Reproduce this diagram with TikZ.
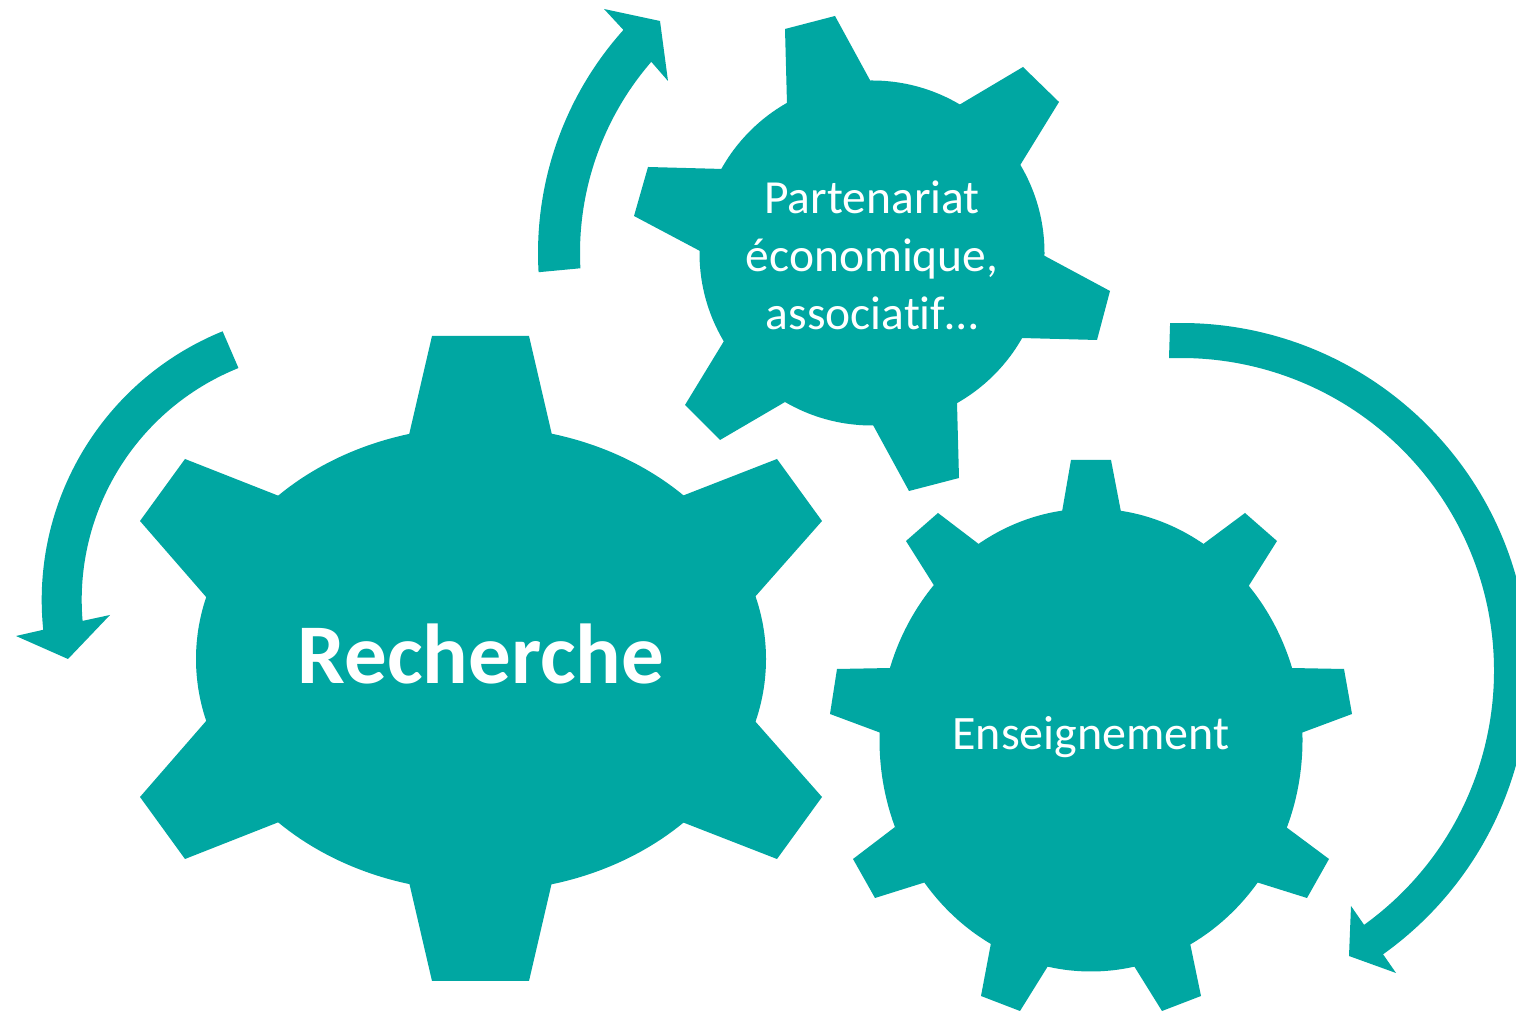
\documentclass[tikz,border=0pt]{standalone}
\usepackage{fontspec}
\setmainfont{Carlito}[Ligatures={NoCommon,NoRare}]
\usetikzlibrary{calc}
\definecolor{gearteal}{RGB}{0,167,162}
\begin{document}
\begin{tikzpicture}[x=1pt,y=1pt,
  gearfill/.style={fill=gearteal},
  geartext/.style={text=white, inner sep=0pt}]
\clip (0,0) rectangle (1516,1011);
\fill[white] (0,0) rectangle (1516,1011);
% centres of the arrow arcs
\coordinate (CA) at (872,758);
\coordinate (CB) at (331.7,411);
\coordinate (CC) at (1181,340);
% ---------- gear 1 : Recherche
\fill[gearfill] (481,352) ellipse [x radius=285pt, y radius=232.5pt];
\fill[gearfill] (409,576) -- (432,675) -- (529,675) -- (552,576) -- cycle;
\fill[gearfill] (682,515) -- (777,552) -- (822,490) -- (754,413) -- cycle;
\fill[gearfill] (754,291) -- (822,214) -- (777,152) -- (682,189) -- cycle;
\fill[gearfill] (552,129) -- (529,30) -- (432,30) -- (409,129) -- cycle;
\fill[gearfill] (279,189) -- (185,152) -- (140,214) -- (207,291) -- cycle;
\fill[gearfill] (207,413) -- (140,490) -- (185,552) -- (279,515) -- cycle;
% ---------- gear 2 : Partenariat
\fill[gearfill] (872,758) circle [radius=172.5pt];
\fill[gearfill] (787,907) -- (785,982) -- (835,995) -- (871,929) -- cycle;
\fill[gearfill] (959,906) -- (1023,944) -- (1059,909) -- (1019,844) -- cycle;
\fill[gearfill] (1043,756) -- (1110,720) -- (1097,671) -- (1021,673) -- cycle;
\fill[gearfill] (957,608) -- (959,533) -- (909,520) -- (873,586) -- cycle;
\fill[gearfill] (785,609) -- (720,571) -- (685,606) -- (724,670) -- cycle;
\fill[gearfill] (700,760) -- (634,795) -- (648,844) -- (723,842) -- cycle;
% ---------- gear 3 : Enseignement
\fill[gearfill] (1091,271) ellipse [x radius=211.5pt, y radius=231.5pt];
\fill[gearfill] (1062,499) -- (1071,551) -- (1111,551) -- (1121,499) -- cycle;
\fill[gearfill] (1202,466) -- (1245,498) -- (1277,470) -- (1248,424) -- cycle;
\fill[gearfill] (1291,343) -- (1344,342) -- (1352,297) -- (1301,278) -- cycle;
\fill[gearfill] (1286,184) -- (1329,152) -- (1307,113) -- (1256,129) -- cycle;
\fill[gearfill] (1190,68) -- (1201,15) -- (1162,0) -- (1134,45) -- cycle;
\fill[gearfill] (1048,45) -- (1020,0) -- (981,15) -- (991,68) -- cycle;
\fill[gearfill] (926,129) -- (875,113) -- (853,152) -- (895,184) -- cycle;
\fill[gearfill] (881,278) -- (830,297) -- (837,342) -- (891,343) -- cycle;
\fill[gearfill] (935,424) -- (906,470) -- (938,498) -- (980,466) -- cycle;
% ---------- circular arrows
\fill[gearfill] ($(CA)+(183.3:334pt)$) arc[start angle=183.3, end angle=138.1, radius=334pt]
  -- (604,1002) -- (660,990) -- (668,930)
  -- ($(CA)+(139.1:292pt)$) arc[start angle=139.1, end angle=183, radius=292pt] -- cycle;
\fill[gearfill] ($(CB)+(112.1:290pt)$) arc[start angle=112.1, end angle=185.9, radius=290pt]
  -- (16,375) -- (68,352) -- (110,396)
  -- ($(CB)+(184.8:250pt)$) arc[start angle=184.8, end angle=111.9, radius=250pt] -- cycle;
\fill[gearfill] ($(CC)+(91.8:348pt)$) arc[start angle=91.8, end angle=-54.5, radius=348pt]
  -- (1396,38) -- (1349,55) -- (1351,105)
  -- ($(CC)+(-54.2:313pt)$) arc[start angle=-54.2, end angle=92.2, radius=313pt] -- cycle;
% ---------- texts
\node[geartext, font=\bfseries\fontsize{85}{100}\selectfont, anchor=base] (recherche) at (481,327) {Recherche};
\node[geartext, font=\fontsize{47.5}{58}\selectfont, align=center] (partenariat) at (872,756) {Partenariat\\économique,\\associatif…};
\node[geartext, font=\fontsize{48}{57}\selectfont, anchor=base] (enseignement) at (1091,261) {Enseignement};
\end{tikzpicture}
\end{document}
